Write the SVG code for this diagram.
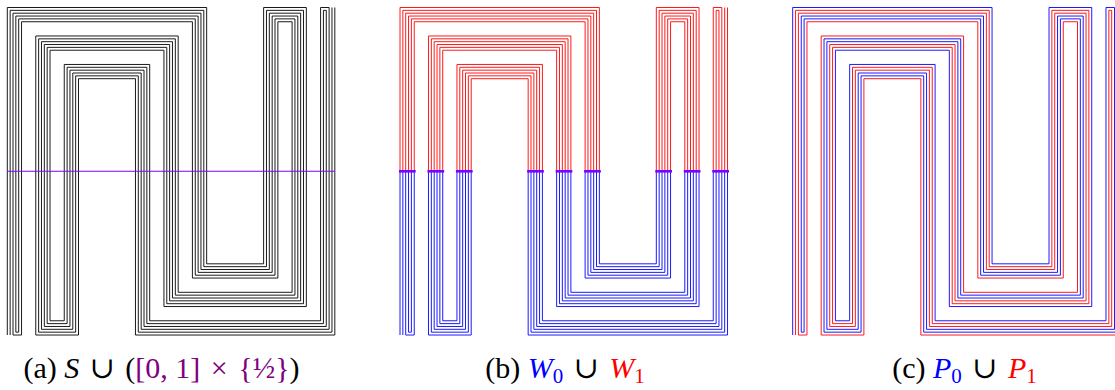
<svg xmlns="http://www.w3.org/2000/svg" xmlns:xlink="http://www.w3.org/1999/xlink" width="1115" height="390" viewBox="0 0 1115 390">
<style>
.c{fill:none;stroke-width:0.9;stroke-linejoin:miter;stroke-linecap:butt}
.tick{fill:#8000ff}
</style>
<defs>
<path id="p0" d="M0 327.52V0H199.36V256.32H256.32V0H299.04V299.04H156.64V42.72H42.72V313.28H56.96V56.96H142.4V313.28H313.28V0H321.82V321.82H133.86V65.5H65.5V321.82H34.18V34.18H165.18V290.5H290.5V8.54H264.86V264.86H190.82V8.54H8.54V324.67H11.39V11.39H187.97V267.71H267.71V11.39H287.65V287.65H168.03V31.33H31.33V324.67H68.35V68.35H131.01V324.67H324.67V0"/>
<path id="p1" d="M327.52 0V327.52H128.16V71.2H71.2V327.52H28.48V28.48H170.88V284.8H284.8V14.24H270.56V270.56H185.12V14.24H14.24V327.52H5.7V5.7H193.66V262.02H262.02V5.7H293.34V293.34H162.34V37.02H37.02V318.98H62.66V62.66H136.7V318.98H318.98V2.85H316.13V316.13H139.55V59.81H59.81V316.13H39.87V39.87H159.49V296.19H296.19V2.85H259.17V259.17H196.51V2.85H2.85V327.52"/>
<clipPath id="topHalf"><rect x="-5" y="-5" width="340" height="168.76"/></clipPath>
<clipPath id="botHalf"><rect x="-5" y="163.76" width="340" height="170"/></clipPath>
</defs>

<g id="panel-a" transform="translate(7.3,7.5)">
  <use href="#p0" xlink:href="#p0" class="c" stroke="#000"/>
  <use href="#p1" xlink:href="#p1" class="c" stroke="#000"/>
  <line x1="0" y1="163.76" x2="327.52" y2="163.76" stroke="#8000ff" stroke-width="1"/>
</g>

<g id="panel-b" transform="translate(400,7.5)">
  <g clip-path="url(#topHalf)" stroke="#ff0000">
    <use href="#p0" xlink:href="#p0" class="c"/>
    <use href="#p1" xlink:href="#p1" class="c"/>
  </g>
  <g clip-path="url(#botHalf)" stroke="#0000ff">
    <use href="#p0" xlink:href="#p0" class="c"/>
    <use href="#p1" xlink:href="#p1" class="c"/>
  </g>
  <g id="ticks">
    <rect class="tick" x="-1" y="162.5" width="16.7" height="2.6"/>
    <rect class="tick" x="27.48" y="162.5" width="16.7" height="2.6"/>
    <rect class="tick" x="55.96" y="162.5" width="16.7" height="2.6"/>
    <rect class="tick" x="127.16" y="162.5" width="16.7" height="2.6"/>
    <rect class="tick" x="155.64" y="162.5" width="16.7" height="2.6"/>
    <rect class="tick" x="184.12" y="162.5" width="16.7" height="2.6"/>
    <rect class="tick" x="255.32" y="162.5" width="16.7" height="2.6"/>
    <rect class="tick" x="283.8" y="162.5" width="16.7" height="2.6"/>
    <rect class="tick" x="312.28" y="162.5" width="16.7" height="2.6"/>
  </g>
</g>

<g id="panel-c" transform="translate(792.7,7.5)">
  <use href="#p0" xlink:href="#p0" class="c" stroke="#0000ff"/>
  <use href="#p1" xlink:href="#p1" class="c" stroke="#ff0000"/>
</g>

<g id="captions" font-family="'Liberation Serif', 'DejaVu Serif', serif" font-size="30">
  <text x="161.5" y="378" text-anchor="middle">(a) <tspan font-style="italic">S</tspan><tspan dx="3"> ∪ </tspan><tspan dx="3">(</tspan><tspan fill="#800080">[0, 1]</tspan><tspan fill="#800080" dx="3"> × </tspan><tspan fill="#800080" dx="3">{½}</tspan>)</text>
  <text x="565" y="378" text-anchor="middle">(b) <tspan font-style="italic" fill="#0000ff">W</tspan><tspan font-size="21" fill="#0000ff" dy="5">0</tspan><tspan dy="-5" dx="3"> ∪ </tspan><tspan font-style="italic" fill="#ff0000" dx="3">W</tspan><tspan font-size="21" fill="#ff0000" dy="5">1</tspan></text>
  <text x="964.5" y="378" text-anchor="middle">(c) <tspan font-style="italic" fill="#0000ff">P</tspan><tspan font-size="21" fill="#0000ff" dy="5">0</tspan><tspan dy="-5" dx="3"> ∪ </tspan><tspan font-style="italic" fill="#ff0000" dx="3">P</tspan><tspan font-size="21" fill="#ff0000" dy="5">1</tspan></text>
</g>
</svg>
